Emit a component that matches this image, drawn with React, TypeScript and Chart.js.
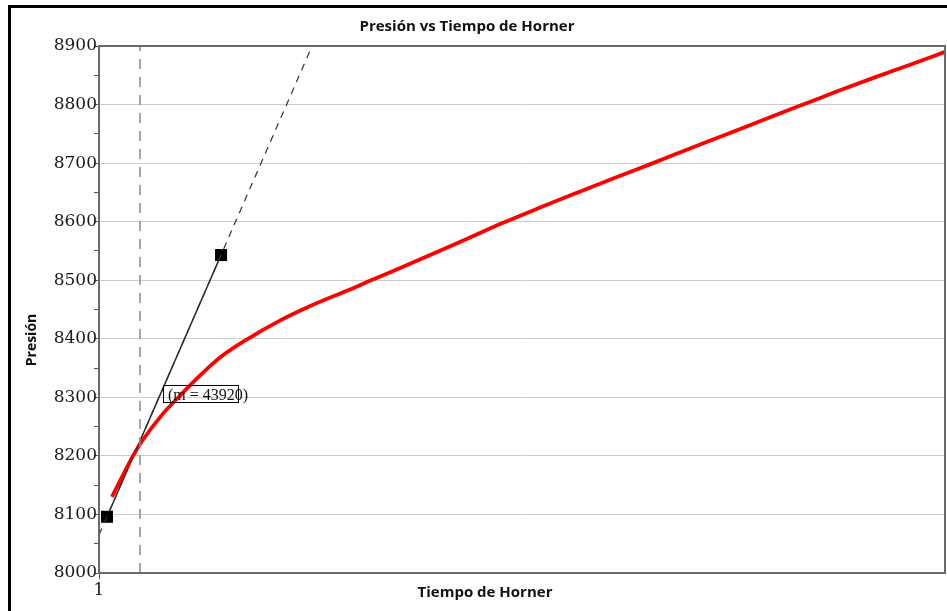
import React, { useEffect, useRef } from 'react';
import { Chart, registerables } from 'chart.js';

Chart.register(...registerables);

// Horner time (log axis) and pressure of the red curve
const hornerTime = [1.036, 1.097, 1.124, 1.187, 1.247, 1.316, 1.39, 1.5, 1.636, 1.791, 1.964, 2.09, 2.288, 2.509, 2.745, 3.003, 3.321, 3.683, 4.073, 4.517, 4.995, 5.54, 6.127, 6.795, 7.473, 8.245, 9.092, 10];
const pressure = [8130, 8200, 8225, 8270, 8303, 8337, 8368, 8400, 8431, 8458, 8482, 8499, 8523, 8548, 8573, 8598, 8624, 8650, 8675, 8700, 8725, 8750, 8775, 8800, 8823, 8846, 8868, 8890];

// straight-line (semilog) fit: end markers and dashed extension
const tangentTime = [1.022, 1.394];
const tangentPressure = [8096, 8543];
const extensionTime = [1, 1.786];
const extensionPressure = [8065, 8900];

// vertical dashed marker
const markerTime = 1.118;

const xMin = 1;
const xMax = 10;
const yMin = 8000;
const yMax = 8900;
const yStep = 50;
const yLabelStep = 100;

const slopeLabel = '(m = 43920)';
const labelTime = 1.19;
const labelPressure = 8305;

const chartTitle = 'Presión vs Tiempo de Horner';
const xTitle = 'Tiempo de Horner';
const yTitle = 'Presión';

const decorPlugin = {
  id: 'decor',
  beforeDraw(chart: any) {
    const { ctx, width, height } = chart;
    ctx.save();
    ctx.fillStyle = '#ffffff';
    ctx.fillRect(0, 0, width, height);
    // outer frame (top & left)
    ctx.fillStyle = '#000000';
    ctx.fillRect(8, 5, width - 8, 3);
    ctx.fillRect(8, 5, 3, height - 5);
    ctx.restore();
  },
  afterDatasetsDraw(chart: any) {
    const { ctx, scales } = chart;
    const px = scales.x.getPixelForValue(labelTime);
    const py = scales.y.getPixelForValue(labelPressure);
    ctx.save();
    ctx.strokeStyle = '#000000';
    ctx.lineWidth = 1;
    ctx.strokeRect(Math.round(px) + 0.5, Math.round(py - 9) + 0.5, 75, 17);
    ctx.fillStyle = '#111111';
    ctx.font = '16px "Liberation Serif", serif';
    ctx.textBaseline = 'middle';
    ctx.textAlign = 'left';
    ctx.fillText(slopeLabel, px + 5, py + 1);
    ctx.restore();
  },
  afterDraw(chart: any) {
    const { ctx, chartArea } = chart;
    ctx.save();
    ctx.strokeStyle = '#6a6a6a';
    ctx.lineWidth = 2;
    ctx.strokeRect(chartArea.left, chartArea.top, chartArea.right - chartArea.left, chartArea.bottom - chartArea.top);
    ctx.fillStyle = '#111111';
    ctx.font = 'bold 15px "Open Sans", sans-serif';
    ctx.textAlign = 'center';
    ctx.textBaseline = 'middle';
    ctx.fillText(chartTitle, 467, 27);
    ctx.fillText(xTitle, 485, 593);
    ctx.font = 'bold 14px "Open Sans", sans-serif';
    ctx.translate(32, 340);
    ctx.rotate(-Math.PI / 2);
    ctx.fillText(yTitle, 0, 0);
    ctx.restore();
  },
};

export default function App() {
  const ref = useRef<HTMLCanvasElement>(null);

  useEffect(() => {
    if (!ref.current) return;
    const curve = hornerTime.map((t, i) => ({ x: t, y: pressure[i] }));
    const tangent = tangentTime.map((t, i) => ({ x: t, y: tangentPressure[i] }));
    const extension = extensionTime.map((t, i) => ({ x: t, y: extensionPressure[i] }));
    const marker = [
      { x: markerTime, y: yMin },
      { x: markerTime, y: yMax },
    ];

    const chart = new Chart(ref.current, {
      type: 'line',
      data: {
        datasets: [
          {
            data: marker,
            borderColor: '#8a8a8a',
            borderWidth: 1.5,
            borderDash: [10, 8],
            pointRadius: 0,
          },
          {
            data: extension,
            borderColor: '#333333',
            borderWidth: 1.2,
            borderDash: [7, 6],
            pointRadius: 0,
          },
          {
            data: curve,
            borderColor: '#ff0000',
            borderWidth: 3.8,
            pointRadius: 0,
            cubicInterpolationMode: 'monotone',
          },
          {
            data: tangent,
            borderColor: '#222222',
            borderWidth: 1.5,
            pointStyle: 'rect',
            pointRadius: 8.5,
            pointBackgroundColor: '#000000',
            pointBorderWidth: 0,
          },
        ],
      },
      options: {
        animation: false,
        responsive: false,
        devicePixelRatio: 1,
        layout: { autoPadding: false, padding: { left: 0, top: 46, right: 2, bottom: 0 } },
        plugins: {
          legend: { display: false },
          title: { display: false },
          tooltip: { enabled: false },
        },
        scales: {
          x: {
            type: 'logarithmic',
            min: xMin,
            max: xMax,
            afterFit(scale: any) {
              scale.height = 38;
              scale.paddingLeft = 0;
              scale.paddingRight = 0;
            },
            border: { display: true, color: '#6a6a6a', width: 2 },
            grid: {
              drawOnChartArea: false,
              tickLength: 6,
              tickColor: (c: any) => (c.tick && c.tick.value === 1 ? '#555555' : 'rgba(0,0,0,0)'),
            },
            ticks: {
              autoSkip: false,
              maxRotation: 0,
              padding: 1,
              color: '#1a1a1a',
              font: { family: '"DejaVu Serif", serif', size: 17 },
              callback: (v: any) => (Number(v) === 1 ? '1' : ''),
            },
          },
          y: {
            type: 'linear',
            min: yMin,
            max: yMax,
            afterFit(scale: any) {
              scale.width = 99;
              scale.paddingTop = 0;
              scale.paddingBottom = 0;
            },
            border: { display: true, color: '#6a6a6a', width: 2 },
            grid: {
              color: (c: any) => (c.tick && c.tick.value % yLabelStep === 0 ? '#cdcdcd' : 'rgba(0,0,0,0)'),
              tickColor: '#555555',
              tickLength: 5,
              lineWidth: 1,
            },
            ticks: {
              stepSize: yStep,
              autoSkip: false,
              padding: -3,
              color: '#1a1a1a',
              font: { family: '"DejaVu Serif", serif', size: 17 },
              callback: (v: any) => (Number(v) % yLabelStep === 0 ? String(v) : ''),
            },
          },
        },
      },
      plugins: [decorPlugin],
    } as any);

    return () => chart.destroy();
  }, []);

  return (
    <div style={{ position: 'absolute', left: 0, top: 0, width: 947, height: 611 }}>
      <canvas ref={ref} width={947} height={611} style={{ width: 947, height: 611, display: 'block' }} />
    </div>
  );
}
